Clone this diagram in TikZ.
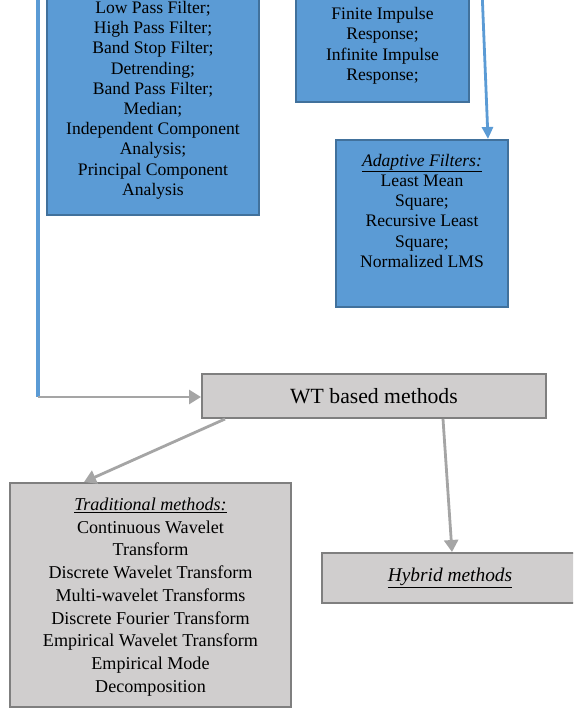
\documentclass[tikz,border=0pt]{standalone}
\usepackage{fontspec}
\setmainfont{Liberation Serif}
\usetikzlibrary{arrows.meta}

\definecolor{boxblue}{HTML}{5B9BD5}
\definecolor{edgeblue}{HTML}{41719C}
\definecolor{boxgray}{HTML}{D0CECE}
\definecolor{edgegray}{HTML}{7F7F7F}
\definecolor{arrowgray}{HTML}{A5A5A5}

\tikzset{
  bluebox/.style={draw=edgeblue, fill=boxblue, line width=2pt, align=center,
    font=\fontsize{17.6}{20.2}\selectfont},
  graybox/.style={draw=edgegray, fill=boxgray, line width=2pt, align=center},
  grayarrow/.style={draw=arrowgray, line width=2.8pt,
    -{Triangle[length=12pt,width=14pt]}},
  blueline/.style={draw=boxblue, line width=3.4pt},
}

\begin{document}
\begin{tikzpicture}[x=1pt, y=-1pt]
\useasboundingbox (0,0) rectangle (573,709);
\clip (0,0) rectangle (573,709);

% 蓝色方框
\node[bluebox, anchor=south, minimum width=212pt, inner ysep=16pt] (classic) at (153,216)
  {Low Pass Filter;\\High Pass Filter;\\Band Stop Filter;\\Detrending;\\Band Pass Filter;\\Median;\\Independent Component\\Analysis;\\Principal Component\\Analysis};
\node[bluebox, anchor=south, minimum width=173pt, inner ysep=18pt] (impulse) at (382.5,103)
  {Finite Impulse\\Response;\\Infinite Impulse\\Response;};
\node[bluebox, anchor=north, minimum width=172pt, inner ysep=14pt, text depth=26pt] (adaptive) at (422,139)
  {\underline{\textit{Adaptive Filters:}}\\Least Mean\\Square;\\Recursive Least\\Square;\\Normalized LMS};

% 灰色方框
\node[graybox, minimum width=344pt, minimum height=44pt, font=\fontsize{21.7}{25}\selectfont] (wt) at (374,396)
  {WT based methods};
\node[graybox, anchor=north, minimum width=281pt, inner ysep=14.8pt, text depth=0pt, font=\fontsize{18.1}{22.75}\selectfont] (trad) at (150.5,482)
  {\underline{\textit{Traditional methods:}}\\Continuous Wavelet\\Transform\\Discrete Wavelet Transform\\Multi-wavelet Transforms\\Discrete Fourier Transform\\Empirical Wavelet Transform\\Empirical Mode\\Decomposition};
\node[graybox, minimum width=256pt, minimum height=50pt, font=\fontsize{19.4}{22}\selectfont] (hybrid) at (450,578)
  {\underline{\textit{Hybrid methods}}};

% 连线
\coordinate (lefttop) at (38,-10);
\coordinate (corner) at (38,397);
\coordinate (righttop) at (482,-10);

\draw[blueline] (lefttop) -- (corner);
\draw[grayarrow] (corner) -- (corner -| wt.west);
\draw[blueline, line width=2.8pt, -{Triangle[length=12pt,width=11pt]}] (righttop) -- ([xshift=-21pt]adaptive.north east);
\draw[grayarrow] ([xshift=24pt]wt.south west) -- ([xshift=75pt]trad.north west);
\draw[grayarrow] ([xshift=242pt]wt.south west) -- ([xshift=131pt]hybrid.north west);

\end{tikzpicture}
\end{document}
